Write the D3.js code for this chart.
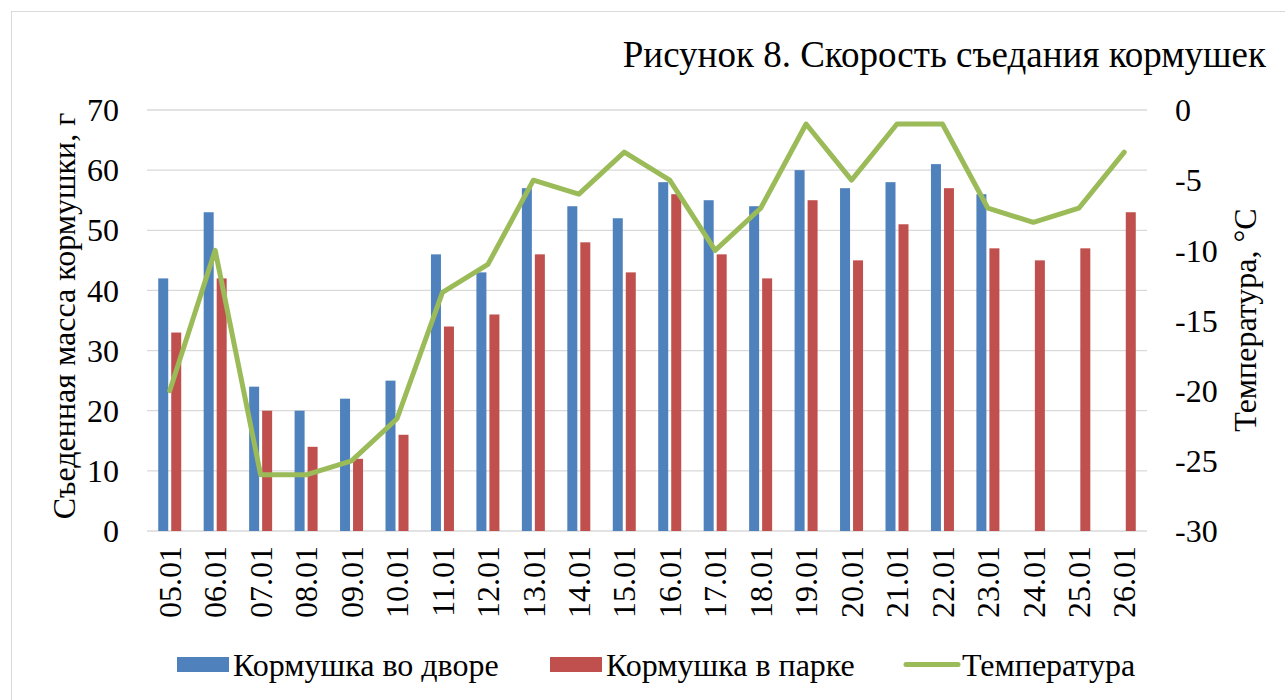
<!DOCTYPE html>
<html><head><meta charset="utf-8">
<script src="https://cdn.jsdelivr.net/npm/d3@7"></script>
</head><body style="margin:0;background:#fff"><svg id="c" width="1285" height="700"></svg>
<script>
const categories = ["05.01","06.01","07.01","08.01","09.01","10.01","11.01","12.01","13.01","14.01","15.01","16.01","17.01","18.01","19.01","20.01","21.01","22.01","23.01","24.01","25.01","26.01"];
const yardValues = [42,53,24,20,22,25,46,43,57,54,52,58,55,54,60,57,58,61,56,null,null,null];
const parkValues = [33,42,20,14,12,16,34,36,46,48,43,56,46,42,55,45,51,57,47,45,47,53];
const tempValues = [-20,-10,-26,-26,-25,-22,-13,-11,-5,-6,-3,-5,-10,-7,-1,-5,-1,-1,-7,-8,-7,-3];
const leftTicks = [0,10,20,30,40,50,60,70];
const rightTicks = [0,-5,-10,-15,-20,-25,-30];
const seriesNames = ["Кормушка во дворе","Кормушка в парке","Температура"];
const titleText = "Рисунок 8. Скорость съедания кормушек";
const leftTitle = "Съеденная масса кормушки, г";
const rightTitle = "Температура, °С";
const colors = ["#4F81BD","#C0504D","#9BBB59"];

const svg = d3.select("#c").style("font-family","\"Liberation Serif\", \"Times New Roman\", serif");
const L=147, R=1147, T=110, B=531;
svg.append("rect").attr("x",11.5).attr("y",11.5).attr("width",1290).attr("height",700).attr("fill","none").attr("stroke","#D9D9D9");

const x = d3.scaleBand().domain(categories).range([L,R]);
const yL = d3.scaleLinear().domain([0,70]).range([B,T]);
const yR = d3.scaleLinear().domain([-30,0]).range([B,T]);

svg.append("g").selectAll("line").data(leftTicks).join("line")
  .attr("x1",L).attr("x2",R).attr("y1",d=>yL(d)).attr("y2",d=>yL(d))
  .attr("stroke","#D9D9D9").attr("stroke-width",1.3);

const bw=10, gap=3;
const bars = svg.append("g");
bars.selectAll(".b1").data(categories.map((c,i)=>({c,v:yardValues[i]})).filter(d=>d.v!=null)).join("rect")
  .attr("x",d=>x(d.c)+x.bandwidth()/2-gap/2-bw).attr("width",bw)
  .attr("y",d=>yL(d.v)).attr("height",d=>yL(0)-yL(d.v)).attr("fill",colors[0]);
bars.selectAll(".b2").data(categories.map((c,i)=>({c,v:parkValues[i]}))).join("rect")
  .attr("x",d=>x(d.c)+x.bandwidth()/2+gap/2).attr("width",bw)
  .attr("y",d=>yL(d.v)).attr("height",d=>yL(0)-yL(d.v)).attr("fill",colors[1]);

const line = d3.line().x((d,i)=>x(categories[i])+x.bandwidth()/2).y(d=>yR(d));
svg.append("path").attr("d",line(tempValues)).attr("fill","none").attr("stroke",colors[2]).attr("stroke-width",5).attr("stroke-linejoin","round").attr("stroke-linecap","round");

const FS=32;
svg.append("g").selectAll("text").data(leftTicks).join("text")
  .attr("x",119).attr("y",d=>yL(d)).attr("dy","0.35em").attr("text-anchor","end")
  .attr("font-size",FS).text(d=>d);
svg.append("g").selectAll("text").data(rightTicks).join("text")
  .attr("x",1175).attr("y",d=>yR(d)).attr("dy","0.35em").attr("text-anchor","start")
  .attr("font-size",FS).text(d=>d);

svg.append("g").selectAll("text").data(categories).join("text")
  .attr("transform",d=>`translate(${x(d)+x.bandwidth()/2},546) rotate(-90)`)
  .attr("dy","0.35em").attr("text-anchor","end").attr("font-size",FS).text(d=>d);

svg.append("text").attr("transform","translate(64,316) rotate(-90)").attr("dy","0.35em")
  .attr("text-anchor","middle").attr("font-size",FS).text(leftTitle);
svg.append("text").attr("transform","translate(1245,320) rotate(-90)").attr("dy","0.35em")
  .attr("text-anchor","middle").attr("font-size",FS).text(rightTitle);

svg.append("text").attr("x",1266).attr("y",67).attr("text-anchor","end").attr("font-size",37).text(titleText);

const leg = [{x:177,type:"rect"},{x:550,type:"rect"},{x:906,type:"line"}];
leg.forEach((l,i)=>{
  if(l.type==="rect") svg.append("rect").attr("x",l.x).attr("y",657).attr("width",52).attr("height",15).attr("fill",colors[i]);
  else svg.append("line").attr("x1",l.x).attr("x2",l.x+52).attr("y1",664.5).attr("y2",664.5).attr("stroke",colors[i]).attr("stroke-width",5).attr("stroke-linecap","round");
  svg.append("text").attr("x",l.x+56).attr("y",664.5).attr("dy","0.35em").attr("font-size",FS).text(seriesNames[i]);
});
</script></body></html>
